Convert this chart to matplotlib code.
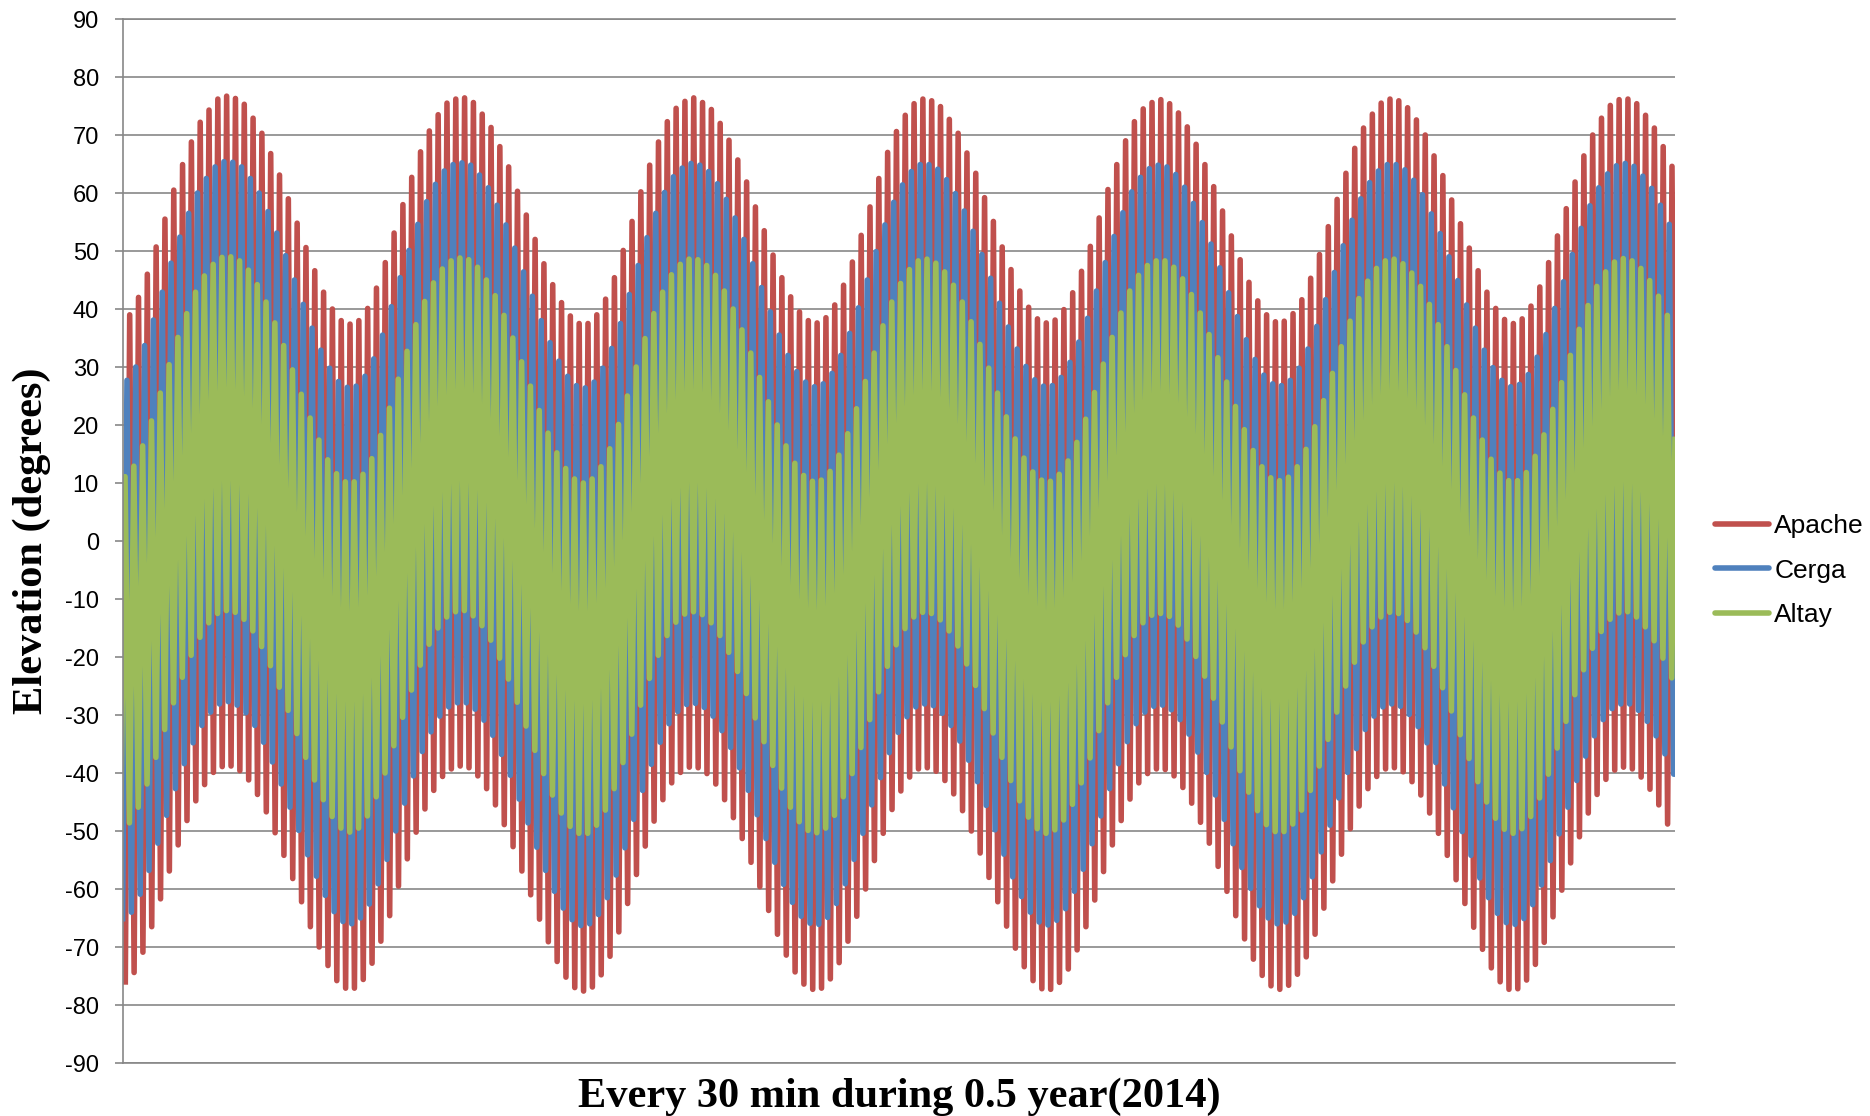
import numpy as np
import matplotlib.pyplot as plt

plt.rcParams['font.family'] = ['Liberation Sans', 'DejaVu Sans']
plt.rcParams['axes.unicode_minus'] = False

# daily upper/lower culmination elevations (deg), one value per lunar day
apache_top = [
    39.0, 42.0, 46.0, 50.7, 55.5, 60.5, 64.9, 68.8, 72.2, 74.3, 76.2, 76.7, 76.3, 75.3, 72.9, 70.3, 66.8, 63.1, 59.0, 54.8,
    50.6, 46.6, 42.9, 40.0, 38.0, 37.4, 38.0, 40.1, 43.6, 48.0, 53.1, 58.0, 62.7, 67.1, 70.7, 73.5, 75.5, 76.2, 76.4, 75.6,
    73.6, 71.3, 68.0, 64.5, 60.3, 56.2, 52.0, 47.8, 44.2, 41.1, 38.8, 37.5, 37.5, 39.0, 41.7, 45.4, 50.1, 55.1, 60.2, 64.8,
    68.8, 72.3, 74.6, 75.8, 76.4, 75.6, 74.4, 72.0, 69.1, 65.7, 61.9, 57.6, 53.5, 49.3, 45.4, 42.1, 39.5, 38.0, 37.6, 38.5,
    40.7, 44.1, 48.1, 52.7, 57.6, 62.5, 67.0, 70.6, 73.4, 75.4, 76.2, 75.9, 74.9, 72.7, 70.3, 66.9, 63.4, 59.2, 55.1, 50.7,
    46.8, 43.1, 40.3, 38.3, 37.6, 38.1, 39.9, 42.8, 46.5, 50.8, 55.7, 60.6, 64.9, 69.0, 72.3, 74.5, 75.6, 76.1, 75.4, 73.8,
    71.4, 68.4, 64.9, 61.1, 56.9, 52.6, 48.5, 44.6, 41.4, 39.0, 37.8, 37.9, 39.2, 41.6, 45.3, 49.4, 54.2, 58.9, 63.4, 67.7,
    71.2, 73.6, 75.5, 76.2, 75.9, 74.7, 72.6, 70.0, 66.4, 63.0, 58.8, 54.7, 50.5, 46.6, 42.9, 40.1, 38.2, 37.5, 38.3, 40.5,
    43.8, 48.0, 52.6, 57.3, 61.9, 66.4, 70.0, 72.9, 75.1, 76.1, 76.2, 75.4, 73.4, 71.2, 68.0, 64.6, 60.8]
apache_bottom = [
    -76.5, -74.4, -70.9, -66.5, -61.7, -56.9, -52.4, -48.2, -44.8, -42.0, -39.9, -38.9, -38.8, -39.6, -41.2, -43.7, -46.7, -50.3, -54.2, -58.2,
    -62.2, -66.5, -70.0, -73.2, -75.8, -77.1, -77.1, -75.6, -72.8, -69.0, -64.6, -59.5, -54.8, -50.2, -46.2, -43.0, -40.6, -39.3, -38.8, -39.1,
    -40.5, -42.7, -45.5, -48.9, -52.7, -56.9, -61.0, -65.2, -69.1, -72.5, -75.2, -77.0, -77.6, -76.9, -74.8, -71.6, -67.4, -62.5, -57.5, -52.6,
    -48.3, -44.6, -41.7, -39.9, -39.0, -39.1, -40.1, -41.9, -44.6, -47.7, -51.3, -55.4, -59.6, -63.7, -67.8, -71.4, -74.3, -76.4, -77.3, -77.1,
    -75.5, -72.7, -69.0, -64.7, -60.0, -55.1, -50.4, -46.3, -43.1, -40.7, -39.3, -39.1, -39.7, -41.3, -43.6, -46.5, -50.0, -53.8, -58.0, -62.2,
    -66.4, -70.2, -73.4, -75.8, -77.2, -77.3, -76.1, -73.8, -70.5, -66.5, -61.9, -57.0, -52.4, -48.2, -44.5, -41.7, -40.1, -39.3, -39.4, -40.5,
    -42.5, -45.2, -48.5, -52.1, -56.1, -60.4, -64.6, -68.6, -72.1, -74.9, -76.7, -77.3, -76.6, -74.7, -71.7, -67.8, -63.3, -58.6, -54.0, -49.6,
    -45.7, -42.7, -40.6, -39.3, -39.1, -39.8, -41.5, -43.8, -46.9, -50.4, -54.2, -58.4, -62.5, -66.6, -70.4, -73.6, -76.0, -77.3, -77.2, -75.7,
    -73.0, -69.2, -64.8, -60.2, -55.5, -51.0, -46.9, -43.7, -41.1, -39.5, -39.0, -39.3, -40.7, -42.8, -45.5, -48.8, -52.4]

cerga_top = [
    27.7, 30.0, 33.7, 38.1, 42.9, 47.9, 52.4, 56.5, 60.0, 62.5, 64.5, 65.4, 65.3, 64.5, 62.5, 60.0, 56.8, 53.1, 49.2, 45.0,
    40.8, 36.7, 32.9, 29.8, 27.5, 26.5, 26.7, 28.4, 31.4, 35.5, 40.4, 45.4, 50.1, 54.6, 58.5, 61.5, 63.8, 64.9, 65.2, 64.8,
    63.1, 60.9, 57.9, 54.5, 50.5, 46.4, 42.2, 38.0, 34.2, 31.0, 28.4, 26.8, 26.4, 27.4, 29.8, 33.2, 37.5, 42.5, 47.5, 52.3,
    56.5, 60.1, 62.8, 64.3, 65.1, 64.8, 63.7, 61.6, 58.9, 55.7, 52.0, 47.8, 43.7, 39.5, 35.5, 32.0, 29.2, 27.4, 26.6, 27.1,
    28.9, 32.0, 35.8, 40.2, 45.0, 49.9, 54.5, 58.4, 61.4, 63.7, 64.9, 64.9, 64.1, 62.3, 59.9, 56.9, 53.4, 49.4, 45.3, 41.0,
    36.9, 33.1, 30.1, 27.8, 26.7, 26.8, 28.2, 30.8, 34.3, 38.4, 43.1, 48.0, 52.5, 56.6, 60.2, 62.7, 64.2, 64.8, 64.5, 63.2,
    61.0, 58.2, 54.9, 51.2, 47.1, 42.8, 38.7, 34.7, 31.3, 28.6, 27.1, 26.8, 27.7, 29.8, 33.1, 37.0, 41.6, 46.3, 50.9, 55.3,
    59.0, 61.8, 63.8, 64.9, 64.9, 64.0, 62.2, 59.7, 56.4, 53.0, 49.0, 44.9, 40.7, 36.7, 32.9, 29.9, 27.7, 26.6, 27.0, 28.7,
    31.7, 35.6, 40.1, 44.7, 49.4, 53.9, 57.8, 60.9, 63.3, 64.7, 65.1, 64.6, 62.9, 60.8, 57.9, 54.6, 50.9]
cerga_bottom = [
    -65.6, -64.0, -60.9, -56.8, -52.1, -47.3, -42.7, -38.4, -34.8, -31.8, -29.5, -28.1, -27.7, -28.3, -29.6, -31.8, -34.7, -38.1, -41.9, -45.9,
    -49.9, -54.1, -57.8, -61.1, -63.9, -65.6, -66.0, -65.0, -62.6, -59.1, -54.9, -50.0, -45.2, -40.5, -36.3, -32.9, -30.2, -28.6, -27.9, -27.9,
    -29.0, -30.9, -33.5, -36.8, -40.4, -44.5, -48.6, -52.8, -56.8, -60.4, -63.3, -65.3, -66.3, -66.0, -64.4, -61.5, -57.6, -52.9, -48.0, -43.0,
    -38.5, -34.7, -31.5, -29.4, -28.2, -28.0, -28.7, -30.2, -32.7, -35.6, -39.1, -43.0, -47.2, -51.3, -55.4, -59.2, -62.3, -64.7, -65.9, -66.1,
    -64.9, -62.5, -59.1, -54.9, -50.4, -45.5, -40.8, -36.5, -33.0, -30.3, -28.6, -28.1, -28.4, -29.7, -31.8, -34.5, -37.8, -41.5, -45.6, -49.8,
    -54.0, -57.9, -61.3, -64.0, -65.7, -66.2, -65.4, -63.4, -60.4, -56.6, -52.2, -47.4, -42.7, -38.4, -34.6, -31.5, -29.5, -28.5, -28.3, -29.1,
    -30.8, -33.3, -36.4, -39.9, -43.8, -48.0, -52.2, -56.3, -59.9, -62.9, -65.0, -66.0, -65.7, -64.2, -61.5, -57.9, -53.6, -49.0, -44.3, -39.9,
    -35.8, -32.5, -30.2, -28.6, -28.1, -28.5, -29.9, -32.0, -34.8, -38.2, -41.9, -46.0, -50.1, -54.2, -58.1, -61.5, -64.2, -65.8, -66.1, -65.1,
    -62.7, -59.3, -55.1, -50.5, -45.9, -41.3, -37.1, -33.6, -30.8, -28.9, -28.1, -28.1, -29.2, -31.1, -33.6, -36.7, -40.2]

altay_top = [
    11.1, 12.9, 16.4, 20.7, 25.5, 30.4, 35.1, 39.2, 42.9, 45.7, 47.7, 48.9, 49.0, 48.3, 46.7, 44.2, 41.2, 37.6, 33.7, 29.5,
    25.3, 21.2, 17.4, 14.0, 11.6, 10.2, 10.2, 11.5, 14.2, 18.2, 22.9, 27.9, 32.7, 37.3, 41.3, 44.5, 46.9, 48.3, 48.8, 48.5,
    47.2, 45.0, 42.3, 38.9, 35.0, 30.9, 26.7, 22.5, 18.6, 15.2, 12.5, 10.7, 10.0, 10.7, 12.8, 15.9, 20.1, 25.0, 30.0, 34.9,
    39.2, 42.9, 45.9, 47.7, 48.6, 48.5, 47.5, 45.8, 43.1, 40.0, 36.4, 32.4, 28.2, 24.0, 20.0, 16.4, 13.4, 11.3, 10.3, 10.5,
    12.0, 14.8, 18.5, 22.8, 27.5, 32.4, 37.1, 41.2, 44.4, 46.8, 48.3, 48.6, 47.9, 46.4, 44.1, 41.2, 37.8, 33.9, 29.8, 25.5,
    21.4, 17.6, 14.3, 11.9, 10.5, 10.3, 11.5, 13.8, 17.0, 21.0, 25.6, 30.5, 35.1, 39.3, 43.1, 45.8, 47.5, 48.3, 48.3, 47.2,
    45.2, 42.5, 39.3, 35.6, 31.6, 27.4, 23.2, 19.2, 15.6, 12.8, 10.9, 10.4, 11.0, 12.8, 15.8, 19.7, 24.2, 28.9, 33.5, 37.9,
    41.8, 44.8, 47.0, 48.3, 48.6, 47.8, 46.2, 43.9, 40.8, 37.3, 33.5, 29.4, 25.2, 21.2, 17.4, 14.1, 11.7, 10.4, 10.4, 11.8,
    14.6, 18.3, 22.7, 27.3, 32.0, 36.5, 40.6, 43.9, 46.4, 48.1, 48.7, 48.3, 47.0, 44.9, 42.2, 38.9, 35.3]
altay_bottom = [
    -50.0, -48.6, -45.9, -41.9, -37.3, -32.5, -27.9, -23.5, -19.7, -16.6, -14.1, -12.5, -12.0, -12.3, -13.5, -15.5, -18.2, -21.5, -25.2, -29.2,
    -33.2, -37.3, -41.2, -44.6, -47.5, -49.5, -50.2, -49.5, -47.4, -44.1, -40.0, -35.3, -30.4, -25.7, -21.4, -17.8, -15.0, -13.1, -12.2, -12.0,
    -12.9, -14.6, -17.1, -20.2, -23.8, -27.8, -31.9, -36.1, -40.1, -43.8, -46.9, -49.2, -50.4, -50.4, -49.0, -46.4, -42.7, -38.2, -33.3, -28.3,
    -23.7, -19.7, -16.3, -14.0, -12.6, -12.2, -12.7, -14.1, -16.3, -19.2, -22.5, -26.3, -30.5, -34.6, -38.7, -42.6, -45.9, -48.4, -49.9, -50.3,
    -49.5, -47.3, -44.1, -40.1, -35.6, -30.8, -26.0, -21.6, -17.9, -15.1, -13.1, -12.3, -12.5, -13.6, -15.5, -18.1, -21.2, -24.9, -28.9, -33.1,
    -37.3, -41.3, -44.8, -47.6, -49.6, -50.4, -49.8, -48.1, -45.4, -41.7, -37.4, -32.7, -27.9, -23.5, -19.6, -16.3, -14.1, -12.8, -12.5, -13.0,
    -14.5, -16.9, -19.9, -23.3, -27.1, -31.2, -35.5, -39.6, -43.3, -46.5, -48.9, -50.1, -50.1, -48.8, -46.4, -43.0, -38.8, -34.2, -29.5, -25.0,
    -20.9, -17.4, -14.8, -13.1, -12.3, -12.5, -13.7, -15.7, -18.4, -21.6, -25.3, -29.3, -33.4, -37.5, -41.5, -45.0, -47.8, -49.7, -50.4, -49.6,
    -47.5, -44.3, -40.2, -35.7, -31.1, -26.5, -22.2, -18.5, -15.6, -13.5, -12.4, -12.2, -13.1, -14.8, -17.2, -20.2, -23.6]

# last sample of each series at the right edge of the plot
end_values = [-14.0, -40.2, 18.0]

names = ['Apache', 'Cerga', 'Altay']
colors = ['#C0504D', '#4F81BD', '#9BBB59']
# culmination time offset of each site, in lunar days (longitude difference)
day_shift = [0.0, -0.31, -0.53]
tops = [apache_top, cerga_top, altay_top]
bottoms = [apache_bottom, cerga_bottom, altay_bottom]

x_left, x_right = -0.76, 175.34

W, H = 1870, 1116
fig = plt.figure(figsize=(W / 100, H / 100), dpi=100)
ax = fig.add_axes([123 / W, 1 - 1063 / H, (1675 - 123) / W, (1063 - 19) / H])

for name, top, bot, shift, end, color in zip(names, tops, bottoms, day_shift,
                                              end_values, colors):
    n = min(len(top), len(bot))
    k = np.arange(n)
    x = np.empty(2 * n)
    y = np.empty(2 * n)
    x[0::2] = k - 0.5 + shift
    x[1::2] = k + shift
    y[0::2] = bot[:n]
    y[1::2] = top[:n]
    keep = x < x_right
    x = np.append(x[keep], x_right)
    y = np.append(y[keep], end)
    ax.plot(x, y, color=color, lw=4.0, solid_joinstyle='round',
            solid_capstyle='butt', label=name)

ax.set_xlim(x_left, x_right)
ax.set_ylim(-90, 90)
ax.set_yticks(np.arange(-90, 91, 10))
ax.set_xticks([])

grey = '#878787'
ax.yaxis.grid(True, color=grey, lw=1.2)
ax.set_axisbelow(True)
for side in ['left', 'top', 'bottom']:
    ax.spines[side].set_color(grey)
    ax.spines[side].set_linewidth(1.2)
ax.spines['right'].set_visible(False)
ax.tick_params(axis='y', length=5.8, width=1.2, color=grey,
               labelsize=17, pad=11.5)

leg = ax.legend(loc='upper left', bbox_to_anchor=(1715 / W, 1 - 514 / H),
                bbox_transform=fig.transFigure, frameon=False, fontsize=19,
                handlelength=2.05, handletextpad=0.2, labelspacing=0.78,
                borderpad=0, borderaxespad=0)
for line in leg.get_lines():
    line.set_linewidth(4.0)
    line.set_solid_capstyle('round')

fig.text(32 / W, 1 - 541 / H, 'Elevation (degrees)', rotation=90,
         ha='center', va='center', family='Liberation Serif',
         weight='bold', size=30.5)
fig.text(899 / W, 1 - 1107 / H, 'Every 30 min during 0.5 year(2014)',
         ha='center', va='baseline', family='Liberation Serif',
         weight='bold', size=30.5)

fig.savefig('out.png', dpi=100)
